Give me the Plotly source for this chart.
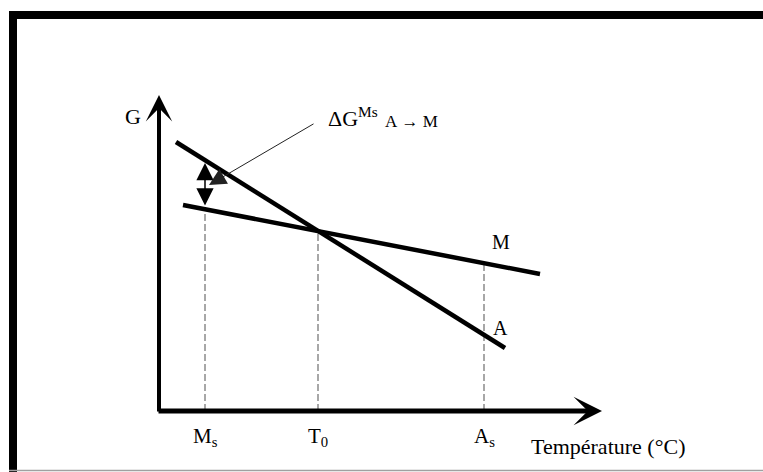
import plotly.graph_objects as go

# ---- data (schematic units: temperature along x, free energy G along y) ----
temp_A = [17, 346]          # austenite line
G_A = [269, 63]
temp_M = [24, 381]          # martensite line
G_M = [206, 137]

mark_temps = [46, 159, 325]                      # Ms, T0, As
mark_labels = ["M<sub>s</sub>", "T<sub>0</sub>", "A<sub>s</sub>"]
mark_tops = [202, 180, 148]                      # where the guide lines meet line M

dG_temp = 46                                     # ΔG arrow at Ms
dG_low = 204
dG_high = 248

x_axis_end = 443
y_axis_end = 316

FONT = "Liberation Serif, Times New Roman, serif"

fig = go.Figure()

# dashed guide lines
for t, top in zip(mark_temps, mark_tops):
    fig.add_trace(go.Scatter(x=[t, t], y=[0, top], mode="lines",
                             line=dict(color="#8a8a8a", width=1.5, dash="7px,3px"),
                             hoverinfo="skip"))

# A and M lines
fig.add_trace(go.Scatter(x=temp_A, y=G_A, mode="lines",
                         line=dict(color="black", width=4.5), name="A"))
fig.add_trace(go.Scatter(x=temp_M, y=G_M, mode="lines",
                         line=dict(color="black", width=4.5), name="M"))

ann = []
# axes as arrows
ann.append(dict(x=0, y=y_axis_end, ax=0, ay=-2, xref="x", yref="y", axref="x", ayref="y",
                text="", showarrow=True, arrowhead=3, arrowwidth=4, arrowsize=1.1,
                arrowcolor="black"))
ann.append(dict(x=x_axis_end, y=0, ax=-2, ay=0, xref="x", yref="y", axref="x", ayref="y",
                text="", showarrow=True, arrowhead=3, arrowwidth=5, arrowsize=0.95,
                arrowcolor="black"))
# double arrow ΔG
ann.append(dict(x=dG_temp, y=dG_high, ax=dG_temp, ay=dG_low, xref="x", yref="y",
                axref="x", ayref="y", text="", showarrow=True, arrowside="end+start",
                arrowhead=2, startarrowhead=2, arrowwidth=1.5, arrowsize=2.3,
                startarrowsize=2.3, arrowcolor="black"))
# leader line
ann.append(dict(x=50, y=226, ax=156, ay=288, xref="x", yref="y", axref="x", ayref="y",
                text="", showarrow=True, arrowhead=2, arrowwidth=1, arrowsize=3.4,
                arrowcolor="#222222"))

# texts
ann.append(dict(x=-26, y=295, xref="x", yref="y", text="G", showarrow=False,
                font=dict(family=FONT, size=22, color="black")))
ann.append(dict(x=167, y=294, xref="x", yref="y", xanchor="left",
                text="ΔG<sup>Ms</sup>", showarrow=False,
                font=dict(family=FONT, size=22, color="black")))
ann.append(dict(x=224, y=290, xref="x", yref="y", xanchor="left",
                text="A\u00a0→\u00a0M", showarrow=False,
                font=dict(family=FONT, size=17, color="black")))
ann.append(dict(x=342, y=169, xref="x", yref="y", text="M", showarrow=False,
                font=dict(family=FONT, size=20, color="black")))
ann.append(dict(x=341, y=83, xref="x", yref="y", text="A", showarrow=False,
                font=dict(family=FONT, size=20, color="black")))
for t, lab in zip(mark_temps, mark_labels):
    ann.append(dict(x=t, y=-26, xref="x", yref="y", text=lab, showarrow=False,
                    font=dict(family=FONT, size=21, color="black")))
ann.append(dict(x=370, y=-35, xref="x", yref="y", xanchor="left",
                text="Température (°C)", showarrow=False,
                font=dict(family=FONT, size=22, color="black")))

# frame (in chart units: origin of the axes sits at pixel 159,411)
shapes = [
    dict(type="rect", xref="x", yref="y", x0=-150, x1=610, y0=392, y1=400,
         fillcolor="black", line=dict(width=0)),
    dict(type="rect", xref="x", yref="y", x0=-150, x1=-142, y0=-70, y1=400,
         fillcolor="black", line=dict(width=0)),
    dict(type="line", xref="x", yref="y", x0=-150, x1=610, y0=-59.5, y1=-59.5,
         line=dict(color="#a0a0a0", width=1.5)),
]

fig.update_layout(
    width=763, height=472,
    margin=dict(l=0, r=0, t=0, b=0),
    paper_bgcolor="white", plot_bgcolor="white",
    showlegend=False,
    xaxis=dict(range=[-159, 604], visible=False, fixedrange=True),
    yaxis=dict(range=[-61, 411], visible=False, fixedrange=True),
    annotations=ann, shapes=shapes,
)

fig.write_html("out.html", config={"displayModeBar": False},
               post_script="document.body.style.margin='0';document.body.style.overflow='hidden';")
